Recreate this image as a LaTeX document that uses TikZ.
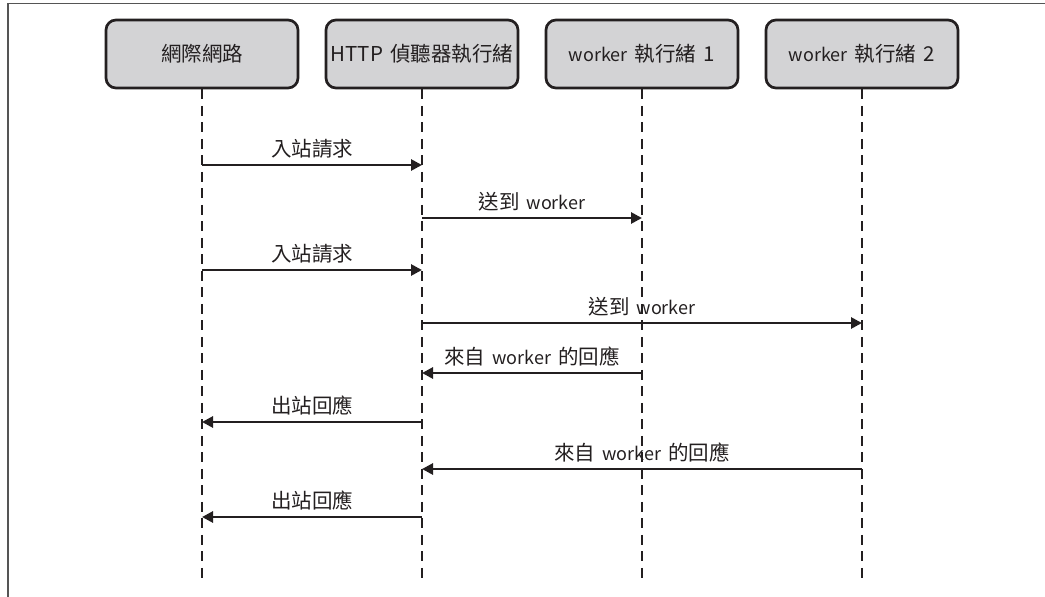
\documentclass[tikz,border=0pt]{standalone}
\usepackage{fontspec}
\setmainfont{Noto Sans CJK TC}
\usetikzlibrary{arrows.meta}
\definecolor{ink}{HTML}{231F20}
\definecolor{boxfill}{HTML}{D3D3D5}
\definecolor{frameline}{HTML}{555555}
\newcommand{\lat}[1]{{\fontsize{18}{20}\selectfont #1}}
\newcommand{\gapsp}{\hspace{0.35em}}
\tikzset{
  actor/.style={draw=ink, line width=2.7pt, fill=boxfill, rounded corners=10pt,
    minimum width=192pt, minimum height=68pt, inner sep=0pt, text=ink,
    font=\fontsize{20.5}{24}\selectfont},
  lifeline/.style={draw=ink, line width=2.9pt, dash pattern=on 10pt off 6.5pt},
  msg/.style={draw=ink, line width=2.7pt, -{Triangle[length=11pt,width=11pt]}},
  lbl/.style={text=ink, font=\fontsize{20.5}{24}\selectfont, inner sep=0pt, anchor=south}
}
\begin{document}
\begin{tikzpicture}[x=1pt,y=-1pt]
\useasboundingbox (0,0) rectangle (1045,597);
% frame
\draw[frameline, line width=1.3pt] (8,597) -- (8,3.5) -- (1045,3.5);
% actors
\node[actor] (net) at (202,54) {網際網路};
\node[actor] (http) at (422,54) {HTTP\gapsp 偵聽器執行緒};
\node[actor] (w1) at (642,54) {\lat{worker}\gapsp 執行緒\gapsp 1};
\node[actor] (w2) at (862,54) {\lat{worker}\gapsp 執行緒\gapsp 2};
% lifeline ends
\coordinate (netE) at (202,584);
\coordinate (httpE) at (422,584);
\coordinate (w1E) at (642,584);
\coordinate (w2E) at (862,584);
\draw[lifeline] (net.south) -- (netE);
\draw[lifeline] (http.south) -- (httpE);
\draw[lifeline] (w1.south) -- (w1E);
\draw[lifeline] (w2.south) -- (w2E);
% message points
\foreach \n/\x in {net/202,http/422,w1/642,w2/862}{
  \foreach \i/\y in {1/165,2/218,3/270,4/323,5/373,6/422,7/469,8/517}{
    \coordinate (\n\i) at (\x,\y);
  }
}
\draw[msg] (net1) -- node[lbl, above=5pt] {入站請求} (http1);
\draw[msg] (http2) -- node[lbl, above=5pt] {送到\gapsp\lat{worker}} (w12);
\draw[msg] (net3) -- node[lbl, above=5pt] {入站請求} (http3);
\draw[msg] (http4) -- node[lbl, above=5pt] {送到\gapsp\lat{worker}} (w24);
\draw[msg] (w15) -- node[lbl, above=5pt] {來自\gapsp\lat{worker}\gapsp 的回應} (http5);
\draw[msg] (http6) -- node[lbl, above=5pt] {出站回應} (net6);
\draw[msg] (w27) -- node[lbl, above=5pt] {來自\gapsp\lat{worker}\gapsp 的回應} (http7);
\draw[msg] (http8) -- node[lbl, above=5pt] {出站回應} (net8);
\end{tikzpicture}
\end{document}
